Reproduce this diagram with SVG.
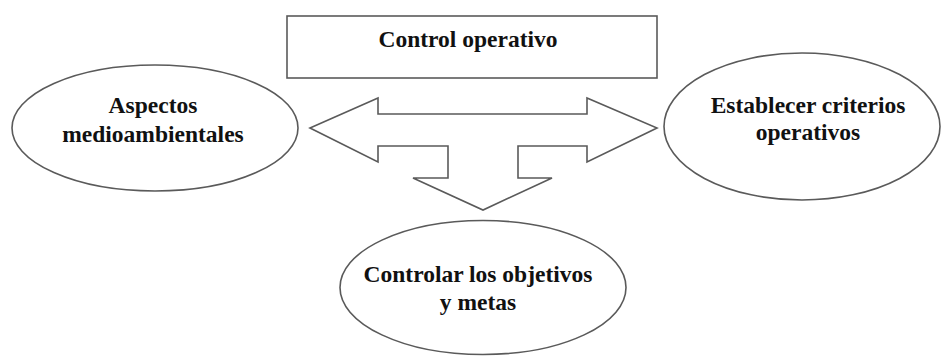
<svg xmlns="http://www.w3.org/2000/svg" width="941" height="356" viewBox="0 0 941 356">
<style>
.shape{fill:#fff;stroke:#5a5a5a;stroke-width:1.6}
.lbl{font-family:"Liberation Serif","Times New Roman",serif;font-weight:bold;font-size:23.5px;fill:#111;text-anchor:middle}
</style>
<rect width="941" height="356" fill="#fff"/>
<g id="connectors">
<polygon class="shape" points="310,128 378,98 378,114 587,114 587,98 657,128 587,162 587,146 518,146 518,178 552,178 483,210 413,178 448,178 448,146 378,146 378,162"/>
</g>
<g id="control-operativo">
<rect class="shape" x="287" y="16" width="370" height="62"/>
<text class="lbl" x="468" y="47">Control operativo</text>
</g>
<g id="aspectos">
<ellipse class="shape" cx="155" cy="128" rx="143" ry="63"/>
<text class="lbl" x="153" y="113">Aspectos</text>
<text class="lbl" x="153" y="142">medioambientales</text>
</g>
<g id="establecer">
<ellipse class="shape" cx="802" cy="126.5" rx="138" ry="73.5"/>
<text class="lbl" x="808" y="113">Establecer criterios</text>
<text class="lbl" x="808" y="140">operativos</text>
</g>
<g id="controlar">
<ellipse class="shape" cx="483" cy="287.5" rx="143" ry="67"/>
<text class="lbl" x="478" y="282">Controlar los objetivos</text>
<text class="lbl" x="478" y="310">y metas</text>
</g>
</svg>
